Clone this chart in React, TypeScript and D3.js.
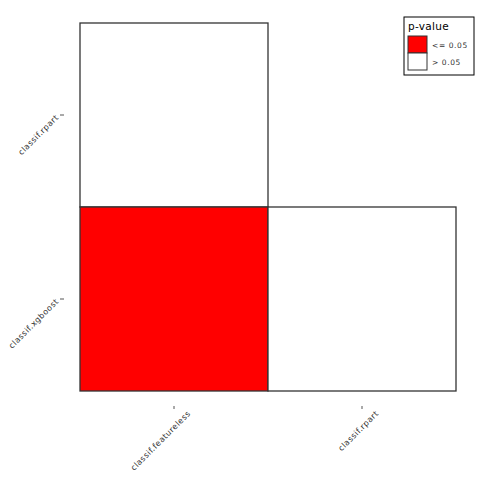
import React from "react";
import * as d3 from "d3";

const rowLabels = ["classif.rpart", "classif.xgboost"];
const colLabels = ["classif.featureless", "classif.rpart"];
// significance per cell: true = p <= 0.05, false = p > 0.05, null = missing
const cellRows = ["classif.rpart", "classif.xgboost", "classif.xgboost"];
const cellCols = ["classif.featureless", "classif.featureless", "classif.rpart"];
const cellSig = [false, true, false];
const legendLabels = ["<= 0.05", "> 0.05"];
const legendColors = ["#FF0000", "#FFFFFF"];

export default function App() {
  const font = "DejaVu Sans, sans-serif";
  const x = d3.scaleBand().domain(colLabels).range([80, 456]).padding(0);
  const y = d3.scaleBand().domain(rowLabels).range([23, 391]).padding(0);
  const cells = cellRows.map((r, i) => ({ r, c: cellCols[i], s: cellSig[i] }));
  return (
    <svg width={480} height={480} style={{ position: "absolute", left: 0, top: 0, background: "#fff" }}
      fontFamily={font}>
      <rect x={0} y={0} width={480} height={480} fill="#fff" />
      {cells.map((d, i) => (
        <rect key={i} x={x(d.c)!} y={y(d.r)!} width={x.bandwidth()} height={y.bandwidth()}
          fill={d.s ? legendColors[0] : legendColors[1]} stroke="#333" strokeWidth={1.3} />
      ))}
      {rowLabels.map((r) => {
        const cy = y(r)! + y.bandwidth() / 2;
        return (
          <g key={r}>
            <line x1={60} x2={64} y1={cy} y2={cy} stroke="#555" strokeWidth={1} />
            <text transform={`translate(59,${cy + 3}) rotate(-45)`} textAnchor="end" fontSize={8}
              letterSpacing={0.5} fill="#333">{r}</text>
          </g>
        );
      })}
      {colLabels.map((c) => {
        const cx = x(c)! + x.bandwidth() / 2;
        return (
          <g key={c}>
            <line x1={cx} x2={cx} y1={406} y2={409} stroke="#555" strokeWidth={1} />
            <text transform={`translate(${cx + 17},${414}) rotate(-45)`} textAnchor="end" fontSize={8}
              letterSpacing={0.5} fill="#333">{c}</text>
          </g>
        );
      })}
      <rect x={404} y={17} width={70} height={58} fill="#fff" stroke="#000" strokeWidth={1} />
      <text x={408} y={30} fontSize={10.5} letterSpacing={0.3} fill="#000">p-value</text>
      {legendLabels.map((l, i) => (
        <g key={l}>
          <rect x={408} y={36 + i * 17} width={19} height={17} fill={legendColors[i]} stroke="#333" strokeWidth={1} />
          <text x={432} y={48 + i * 17} fontSize={7.5} letterSpacing={0.6} fill="#333">{l}</text>
        </g>
      ))}
    </svg>
  );
}
